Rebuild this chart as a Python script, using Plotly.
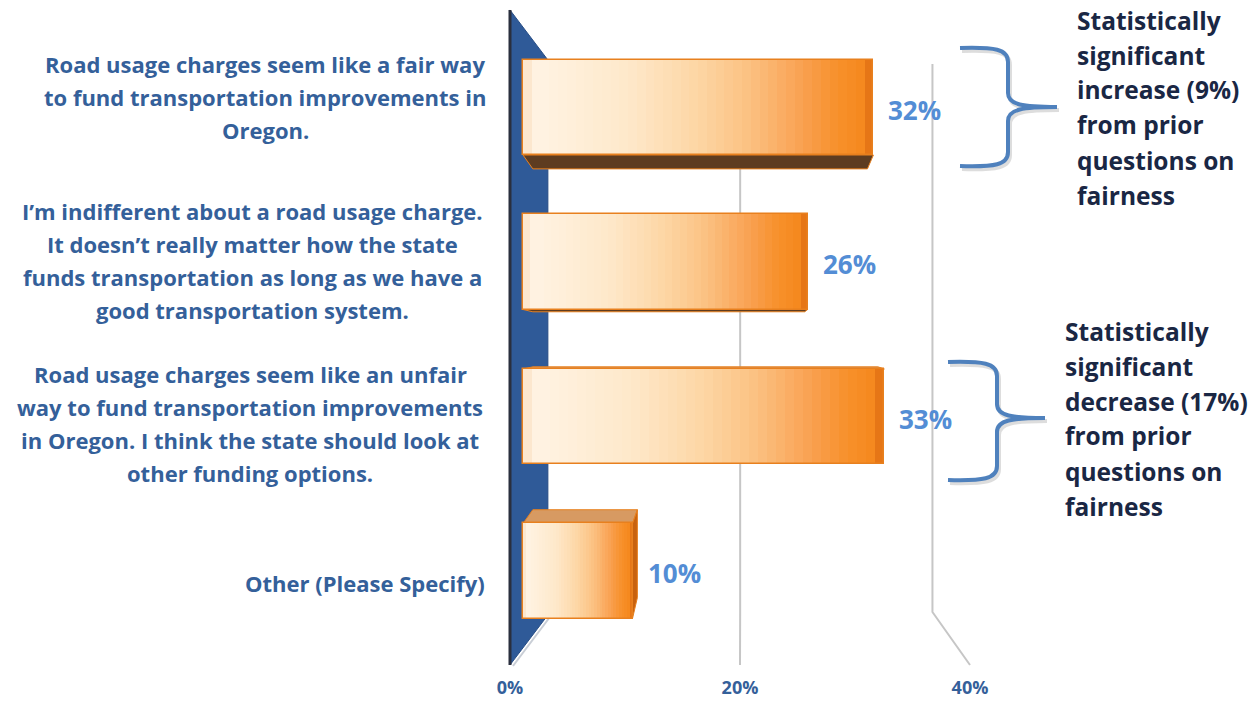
import plotly.graph_objects as go

# ---------------- data ----------------
label_lines = [
    ["Road usage charges seem like a fair way", "to fund transportation improvements in", "Oregon."],
    ["I\u2019m indifferent about a road usage charge.", "It doesn\u2019t really matter how the state",
     "funds transportation as long as we have a", "good transportation system."],
    ["Road usage charges seem like an unfair", "way to fund transportation improvements",
     "in Oregon. I think the state should look at", "other funding options."],
    ["Other (Please Specify)"],
]
categories = [" ".join(l) for l in label_lines]
values = [32, 26, 33, 10]
tick_vals = [0, 20, 40]
tick_text = ["0%", "20%", "40%"]
note_increase = ["Statistically", "significant", "increase (9%)", "from prior", "questions on", "fairness"]
note_decrease = ["Statistically", "significant", "decrease (17%)", "from prior", "questions on", "fairness"]

# ---------------- geometry / style ----------------
W, H = 1251, 704
X0, SX = 523.0, 10.95        # bar (front face) axis: pixel of 0 and px per %
XF0, SF = 510.0, 11.5        # floor-front axis (tick labels)
YC0, YS = 107.5, 154.5       # pixel center of first category, px per category
PLOT_BOTTOM = 675.0
BAR_W = 0.615
VPX, VPY = 741.0, 340.0      # vanishing point for the fake 3-D
KD = 0.164                   # wall depth factor
KX, KY = 0.045, 0.075        # bar depth factors

LABEL_COLOR = "#34609A"
VALUE_COLOR = "#538DD5"
NOTE_COLOR = "#1A2744"
BRACE_COLOR = "#4F81BD"
FONT = "Open Sans"

grad_stops = [
    (0.00, (250, 226, 196)),
    (0.04, (255, 243, 227)),
    (0.30, (254, 232, 202)),
    (0.50, (253, 214, 164)),
    (0.65, (251, 192, 128)),
    (0.80, (249, 160, 80)),
    (0.90, (247, 144, 42)),
    (0.97, (245, 136, 30)),
    (1.00, (230, 118, 22)),
]


def grad(f):
    for (p0, c0), (p1, c1) in zip(grad_stops[:-1], grad_stops[1:]):
        if p0 <= f <= p1:
            t = 0 if p1 == p0 else (f - p0) / (p1 - p0)
            c = [round(a + (b - a) * t) for a, b in zip(c0, c1)]
            return "rgb(%d,%d,%d)" % tuple(c)
    return "rgb(%d,%d,%d)" % grad_stops[-1][1]


def px(x):
    return x / W


def py(y):
    return 1 - y / H


def path(points, close=True):
    s = "M " + " L ".join("%.5f,%.5f" % (px(x), py(y)) for x, y in points)
    return s + (" Z" if close else "")


fig = go.Figure()

# gradient bars (overlaid, decreasing length)
N = 40
for k in range(N):
    f = 1 - k / N
    fig.add_trace(go.Bar(
        x=[v * f for v in values], y=categories, orientation="h",
        width=BAR_W, marker=dict(color=grad(f - (0 if k == 0 else 0.5 / N)), line=dict(width=0)),
        hoverinfo="skip", showlegend=False,
    ))
# outline trace
fig.add_trace(go.Bar(
    x=values, y=categories, orientation="h", width=BAR_W,
    marker=dict(color="rgba(0,0,0,0)", line=dict(color="#E8801E", width=1.5)),
    hovertemplate="%{x}%<extra></extra>", showlegend=False,
))
# dummy trace for the floor axis
fig.add_trace(go.Scatter(x=[tick_vals[0], tick_vals[-1]], y=[categories[0], categories[0]],
                         xaxis="x2", yaxis="y", mode="markers", marker=dict(opacity=0),
                         hoverinfo="skip", showlegend=False))

shapes = []
# back wall (0%)
wl_front = XF0
wl_back = VPX + (XF0 - VPX) * (1 - KD)
shapes.append(dict(type="path", xref="paper", yref="paper", layer="below",
                   path=path([(wl_back + 2, 617), (wl_front + 3, 666)], close=False),
                   line=dict(color="#C9CED6", width=2)))
shapes.append(dict(type="path", xref="paper", yref="paper", layer="below",
                   path=path([(wl_front, 10), (wl_back, 60), (wl_back, 615), (wl_front, 665)]),
                   fillcolor="#2F5A98", line=dict(color="#284E86", width=1)))
shapes.append(dict(type="line", xref="paper", yref="paper", layer="below",
                   x0=px(wl_front), x1=px(wl_front), y0=py(10), y1=py(665),
                   line=dict(color="#2A2F3E", width=3)))
# gridlines (back wall vertical + floor diagonal)
for t in tick_vals[1:]:
    xf = XF0 + SF * t
    xb = VPX + (xf - VPX) * (1 - KD)
    shapes.append(dict(type="path", xref="paper", yref="paper", layer="below",
                       path=path([(xb, 64), (xb, 612), (xf, 665)], close=False),
                       line=dict(color="#C6C6C6", width=2)))

# 3-D faces of bars
hh = BAR_W * YS / 2
for i, v in enumerate(values):
    xl, xr = X0, X0 + SX * v
    yc = YC0 + YS * i
    yt, yb = yc - hh, yc + hh

    def back(x, y):
        return (x + KX * (VPX - x), y + KY * (VPY - y))

    if yt > VPY:  # top face visible
        shapes.append(dict(type="path", xref="paper", yref="paper", layer="below",
                           path=path([(xl, yt), (xr, yt), back(xr, yt), back(xl, yt)]),
                           fillcolor="#D79A62", line=dict(color="#E8801E", width=1)))
    if yb < VPY:  # bottom face visible
        shapes.append(dict(type="path", xref="paper", yref="paper", layer="below",
                           path=path([(xl, yb), (xr, yb), back(xr, yb), back(xl, yb)]),
                           fillcolor="#5E3C20", line=dict(color="#E8801E", width=1)))
    if xr < VPX:  # right face visible
        shapes.append(dict(type="path", xref="paper", yref="paper", layer="below",
                           path=path([(xr, yt), back(xr, yt), back(xr, yb), (xr, yb)]),
                           fillcolor="#C8620F", line=dict(color="#E8801E", width=1)))


# braces
def brace(x_arm, y_top, x_mid, y_tip, x_tip, y_bot):
    pts = [
        "M %.5f,%.5f" % (px(x_arm), py(y_top)),
        "C %.5f,%.5f %.5f,%.5f %.5f,%.5f" % (px(x_arm + 35), py(y_top - 1), px(x_mid), py(y_top + 1), px(x_mid), py(y_top + 14)),
        "L %.5f,%.5f" % (px(x_mid), py(y_tip - 14)),
        "C %.5f,%.5f %.5f,%.5f %.5f,%.5f" % (px(x_mid), py(y_tip - 2), px(x_mid + 15), py(y_tip), px(x_tip), py(y_tip)),
        "C %.5f,%.5f %.5f,%.5f %.5f,%.5f" % (px(x_mid + 15), py(y_tip), px(x_mid), py(y_tip + 2), px(x_mid), py(y_tip + 14)),
        "L %.5f,%.5f" % (px(x_mid), py(y_bot - 14)),
        "C %.5f,%.5f %.5f,%.5f %.5f,%.5f" % (px(x_mid), py(y_bot - 1), px(x_arm + 35), py(y_bot + 1), px(x_arm), py(y_bot)),
    ]
    return " ".join(pts)


for (xa, yt_, xm, ytip, xtip, yb_) in [(960, 48, 1008, 107, 1057, 166), (948, 362, 997, 418, 1045, 480)]:
    shapes.append(dict(type="path", xref="paper", yref="paper", layer="above",
                       path=brace(xa + 2, yt_ + 3, xm + 2, ytip + 3, xtip + 2, yb_ + 3),
                       line=dict(color="rgba(120,120,120,0.25)", width=4)))
    shapes.append(dict(type="path", xref="paper", yref="paper", layer="above",
                       path=brace(xa, yt_, xm, ytip, xtip, yb_),
                       line=dict(color=BRACE_COLOR, width=4)))

annotations = []
# category labels (one annotation per line, centred)
label_centers = [265, 252, 250, 365]
label_offsets = [-11, -2, 7, 12]
LINE_SP = 33
for i, lines in enumerate(label_lines):
    n = len(lines)
    for j, line in enumerate(lines):
        annotations.append(dict(
            x=px(label_centers[i]), xref="paper", xanchor="center",
            y=categories[i], yref="y", yanchor="middle",
            yshift=-((j - (n - 1) / 2) * LINE_SP + label_offsets[i]),
            text="<b>%s</b>" % line, showarrow=False,
            font=dict(family=FONT, size=22, color=LABEL_COLOR)))
# value labels
for i, v in enumerate(values):
    annotations.append(dict(
        x=v, xref="x", xanchor="left", xshift=13,
        y=categories[i], yref="y", yanchor="middle", yshift=-2,
        text="<b>%d%%</b>" % v, showarrow=False,
        font=dict(family=FONT, size=26, color=VALUE_COLOR)))
# notes
for lines, x_left, y_first in [(note_increase, 1075, 20), (note_decrease, 1063, 331)]:
    for j, line in enumerate(lines):
        annotations.append(dict(
            x=px(x_left), xref="paper", xanchor="left",
            y=py(y_first + 35 * j), yref="paper", yanchor="middle",
            text="<b>%s</b>" % line, showarrow=False,
            font=dict(family=FONT, size=24.5, color=NOTE_COLOR)))

y_lo = -YC0 / YS
y_hi = (PLOT_BOTTOM - YC0) / YS

fig.update_layout(
    width=W, height=H,
    margin=dict(l=0, r=0, t=0, b=0),
    paper_bgcolor="white", plot_bgcolor="rgba(0,0,0,0)",
    barmode="overlay", bargap=0,
    showlegend=False,
    font=dict(family=FONT),
    xaxis=dict(range=[-X0 / SX, (W - X0) / SX], domain=[0, 1], showgrid=False, zeroline=False,
               showline=False, showticklabels=False, ticks="", fixedrange=True),
    xaxis2=dict(overlaying="x", anchor="y", side="bottom",
                range=[-XF0 / SF, (W - XF0) / SF], tickvals=tick_vals,
                ticktext=["<b>%s</b>" % t for t in tick_text],
                showgrid=False, zeroline=False, showline=False, ticks="",
                tickfont=dict(family=FONT, size=18, color=LABEL_COLOR), fixedrange=True),
    yaxis=dict(type="category", categoryorder="array", categoryarray=categories,
               range=[y_hi, y_lo], domain=[1 - PLOT_BOTTOM / H, 1],
               showgrid=False, zeroline=False, showline=False, showticklabels=False, ticks="",
               fixedrange=True),
    shapes=shapes,
    annotations=annotations,
)

fig.write_html("out.html", config={"displayModeBar": False},
               post_script="document.body.style.margin='0';document.body.style.overflow='hidden';")
